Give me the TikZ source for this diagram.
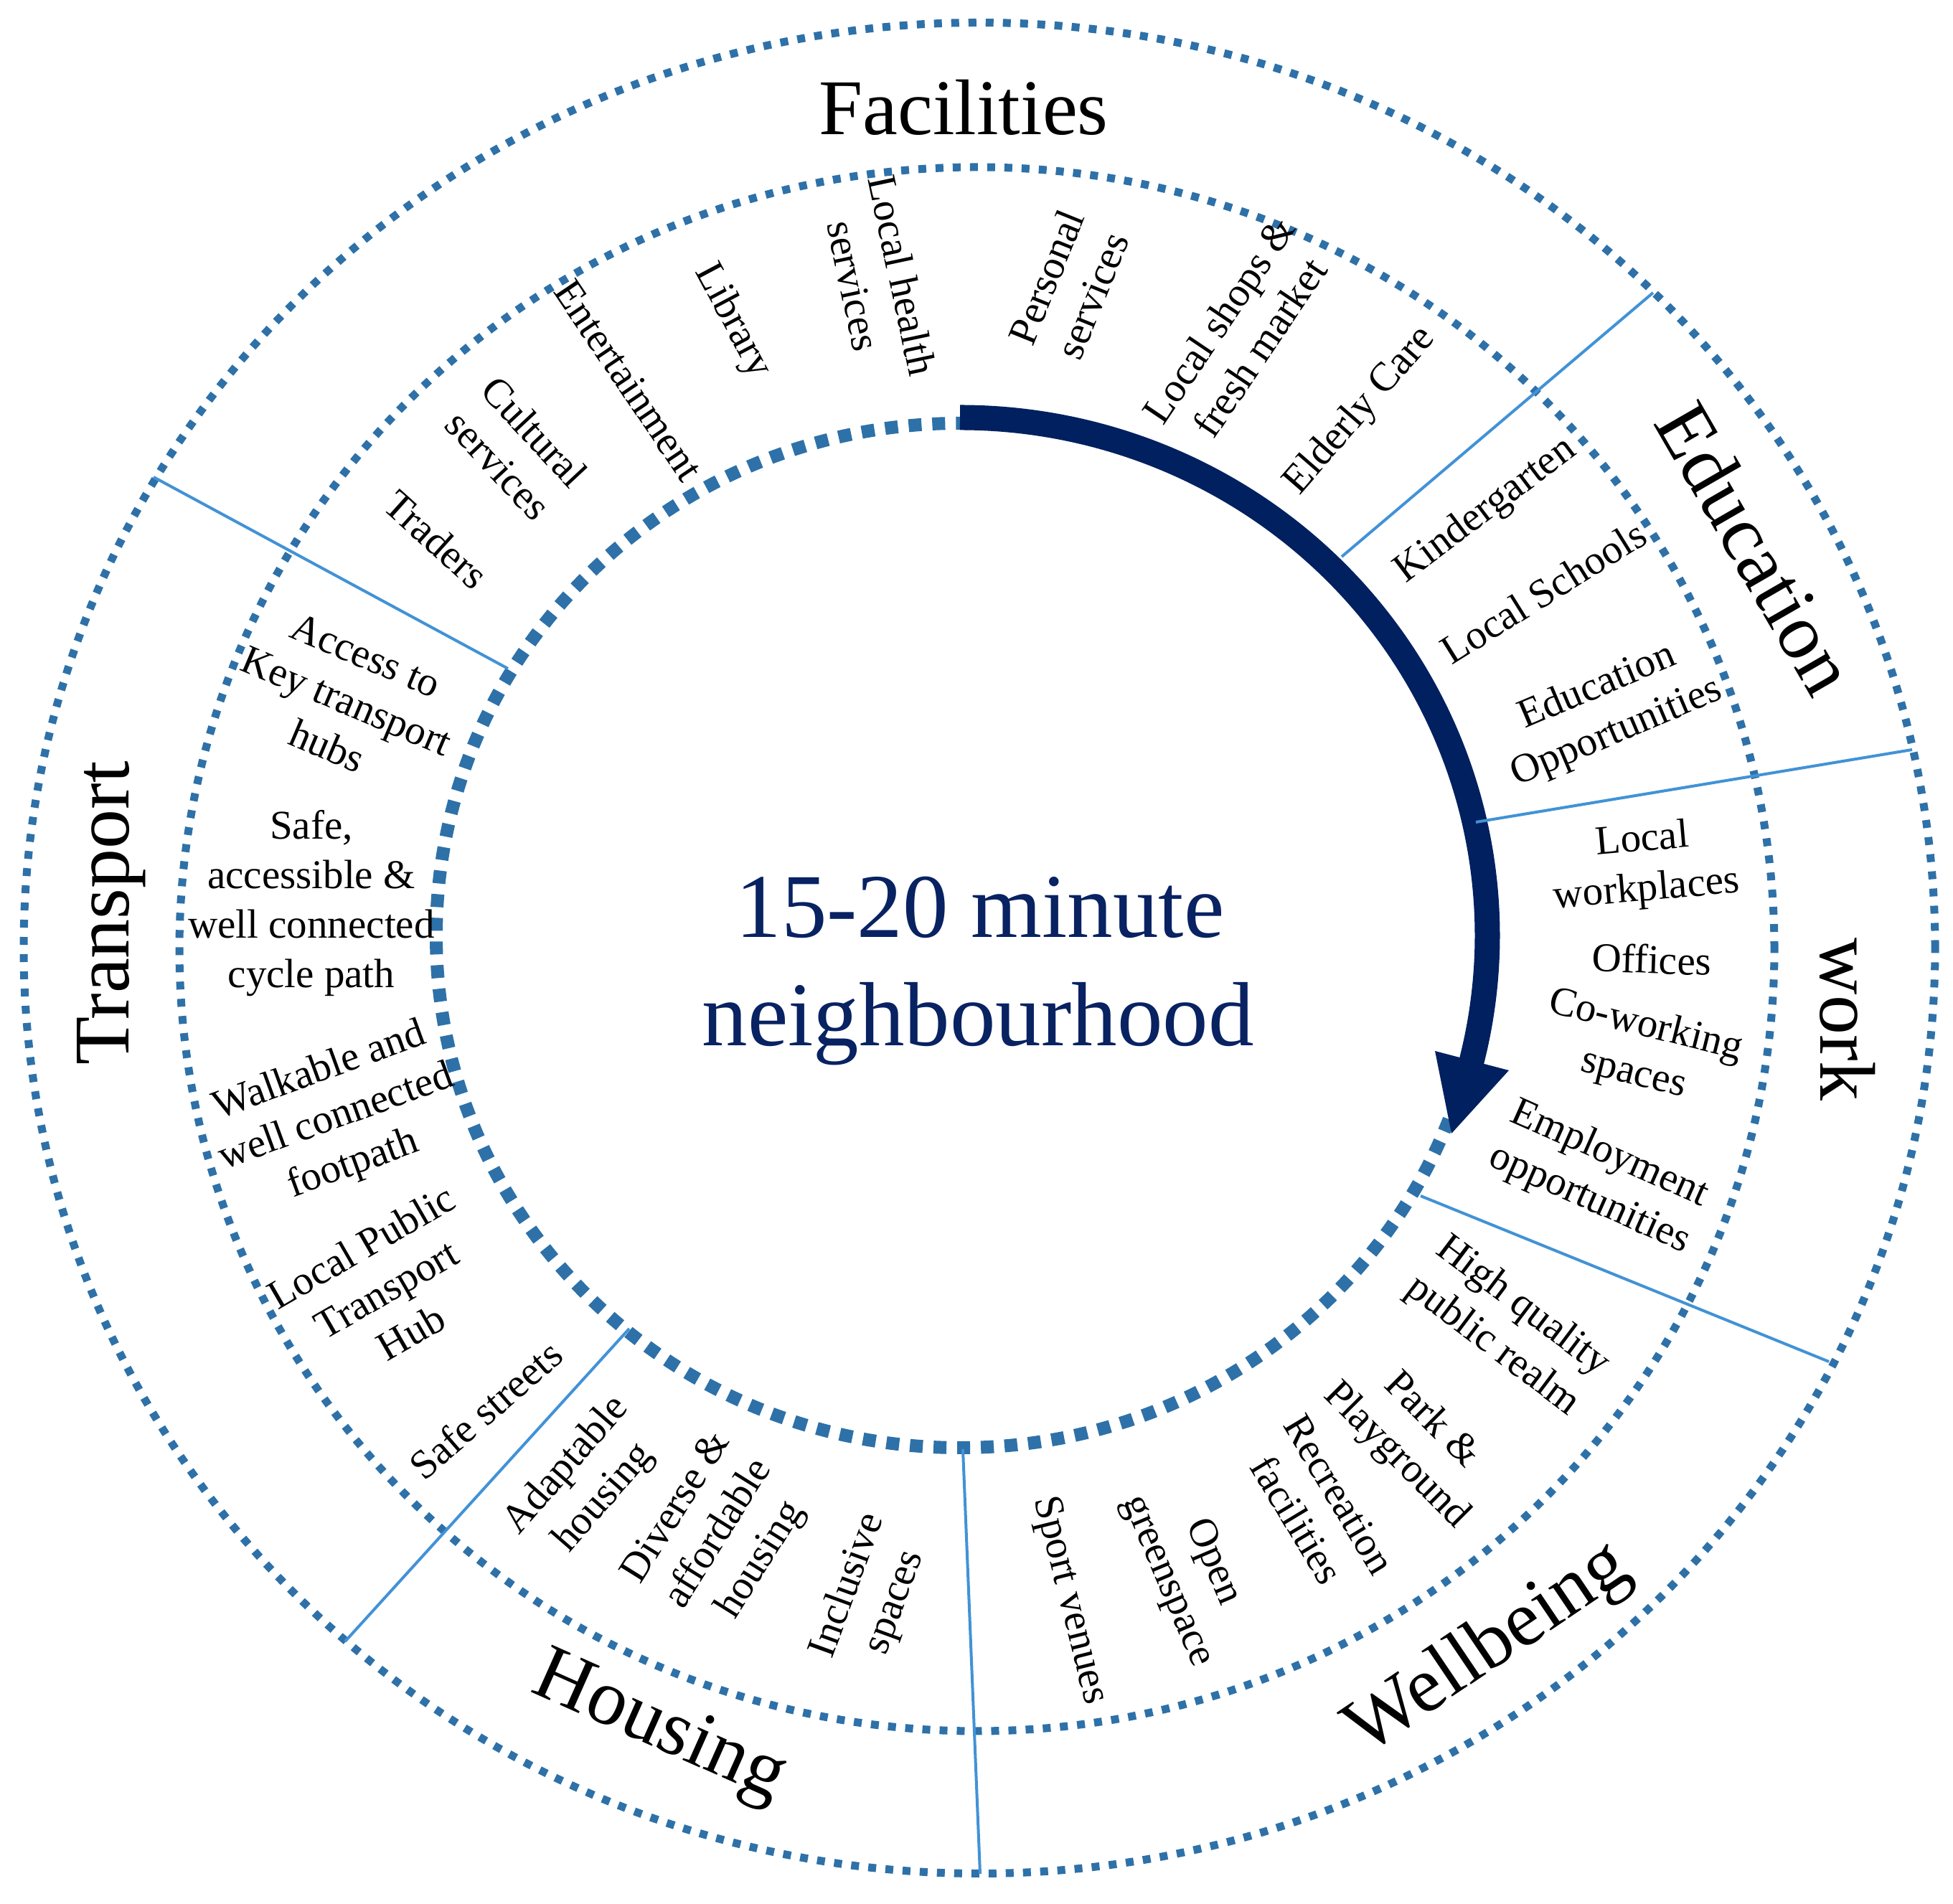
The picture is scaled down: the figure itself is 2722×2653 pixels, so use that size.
\documentclass[tikz,border=0pt]{standalone}
\usepackage{fontspec}
\setmainfont{Liberation Serif}
\definecolor{dotblue}{RGB}{46,113,168}
\definecolor{sepblue}{RGB}{66,146,214}
\definecolor{arrownavy}{RGB}{0,32,96}
\definecolor{textnavy}{RGB}{8,34,98}
\begin{document}
\begin{tikzpicture}[x=1pt,y=1pt,
  ring/.style={draw=dotblue, line width=11pt, dash pattern=on 11pt off 13pt},
  innerring/.style={draw=dotblue, line width=18pt, dash pattern=on 18pt off 15pt},
  sep/.style={draw=sepblue, line width=4pt},
  head/.style={font=\fontsize{110}{132}\selectfont, inner sep=0pt},
  lab/.style={font=\fontsize{57}{69}\selectfont, align=center, inner sep=0pt},
  ctr/.style={font=\fontsize{127}{150}\selectfont, text=textnavy, inner sep=0pt, anchor=base},
]
\useasboundingbox (0,0) rectangle (2722,2653);

% rings
\draw[ring] (1365,1331.5) ellipse [x radius=1332, y radius=1290];
\draw[ring] (1361.5,1330) ellipse [x radius=1111.5, y radius=1090];
\draw[innerring] (1338,1349) ellipse [x radius=730, y radius=714];

% arrow
\draw[arrownavy, line width=35pt] (1338,2071) arc[start angle=90, end angle=-15, x radius=735, y radius=722];
\fill[arrownavy] (2000,1188) -- (2103,1161) -- (2023,1073) -- cycle;

% separators
\coordinate (s1a) at (1870,1877); \coordinate (s1b) at (2304,2245);
\coordinate (s2a) at (2057,1507); \coordinate (s2b) at (2665,1608);
\coordinate (s3a) at (1980,986);  \coordinate (s3b) at (2549,755);
\coordinate (s4a) at (1342,633);  \coordinate (s4b) at (1366,41);
\coordinate (s5a) at (877,801);   \coordinate (s5b) at (481,365);
\coordinate (s6a) at (708,1721);  \coordinate (s6b) at (214,1988);
\draw[sep] (s1a) -- (s1b);
\draw[sep] (s2a) -- (s2b);
\draw[sep] (s3a) -- (s3b);
\draw[sep] (s4a) -- (s4b);
\draw[sep] (s5a) -- (s5b);
\draw[sep] (s6a) -- (s6b);

% headers
\node[head] (hfac) at (1343,2503) {Facilities};
\node[head, rotate=-60] (hedu) at (2448,1889) {Education};
\node[head, rotate=-90] (hwork) at (2575,1232) {work};
\node[head, rotate=34] (hwell) at (2075,353) {Wellbeing};
\node[head, rotate=-24] (hhous) at (918,242) {Housing};
\node[head, rotate=90] (htrans) at (155,1380) {Transport};

% centre
\node[ctr] (c1) at (1366,1346) {15-20 minute};
\node[ctr] (c2) at (1363,1195) {neighbourhood};

% facilities
\node[lab, rotate=-42] (f1) at (608,1901) {Traders};
\node[lab, rotate=-47] (f2) at (720,2028) {Cultural\\services};
\node[lab, rotate=-56] (f3) at (876,2123) {Entertainment};
\node[lab, rotate=-62] (f4) at (1021,2205) {Library};
\node[lab, rotate=-78] (f5) at (1224,2262) {Local health\\services};
\node[lab, rotate=68] (f6) at (1490,2254) {Personal\\services};
\node[lab, rotate=56] (f7) at (1727,2188) {Local shops \&\\fresh market};
\node[lab, rotate=49] (f8) at (1896,2080) {Elderly Care};
% education
\node[lab, rotate=37] (e1) at (2071,1941) {Kindergarten};
\node[lab, rotate=32] (e2) at (2151,1828) {Local Schools};
\node[lab, rotate=23] (e3) at (2240,1663) {Education\\Opportunities};
% work
\node[lab, rotate=5] (w1) at (2292,1446) {Local\\workplaces};
\node[lab, rotate=-2] (w2) at (2302,1316) {Offices};
\node[lab, rotate=-14] (w3) at (2285,1189) {Co-working\\spaces};
\node[lab, rotate=-24] (w4) at (2229,1012) {Employment\\opportunities};
% wellbeing
\node[lab, rotate=-37] (b1) at (2101,804) {High quality\\public realm};
\node[lab, rotate=-45] (b2) at (1970,648) {Park \&\\Playground};
\node[lab, rotate=-59] (b3) at (1837,552) {Recreation\\facilities};
\node[lab, rotate=-67] (b4) at (1658,462) {Open\\greenspace};
\node[lab, rotate=-76] (b5) at (1490,422) {Sport venues};
% housing
\node[lab, rotate=70] (o1) at (1215,431) {Inclusive\\spaces};
\node[lab, rotate=58] (o2) at (1003,514) {Diverse \&\\affordable\\housing};
\node[lab, rotate=49] (o3) at (816,587) {Adaptable\\housing};
% transport
\node[lab, rotate=41] (t1) at (677,688) {Safe streets};
\node[lab, rotate=30] (t2) at (538,856) {Local Public\\Transport\\Hub};
\node[lab, rotate=20] (t3) at (469,1094) {Walkable and\\well connected\\footpath};
\node[lab] (t4) at (434,1394) {Safe,\\accessible \&\\well connected\\cycle path};
\node[lab, rotate=-23] (t5) at (483,1676) {Access to\\Key transport\\hubs};
\end{tikzpicture}
\end{document}
